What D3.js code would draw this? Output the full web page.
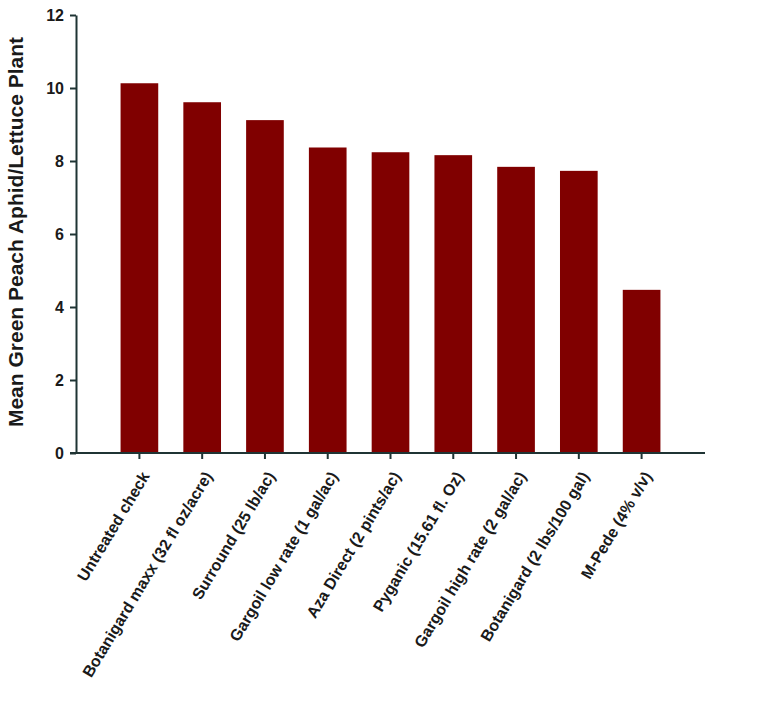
<!DOCTYPE html>
<html>
<head>
<meta charset="utf-8">
<script src="https://cdn.jsdelivr.net/npm/d3@7"></script>
<style>
  body { margin: 0; background: #fff; }
  text { font-family: "Liberation Sans", Arial, sans-serif; font-weight: bold; fill: #1a1a1a; }
</style>
</head>
<body>
<svg width="760" height="708"></svg>
<script>
const treatments = [
  "Untreated check",
  "Botanigard maxx (32 fl oz/acre)",
  "Surround (25 lb/ac)",
  "Gargoil low rate (1 gal/ac)",
  "Aza Direct (2 pints/ac)",
  "Pyganic (15.61 fl. Oz)",
  "Gargoil high rate (2 gal/ac)",
  "Botanigard (2 lbs/100 gal)",
  "M-Pede (4% v/v)"
];
const aphids = [10.13, 9.61, 9.12, 8.37, 8.24, 8.16, 7.84, 7.73, 4.47];
const yTicks = [0, 2, 4, 6, 8, 10, 12];

const svg = d3.select("svg");
const axisColor = "#1f3434";

const margin = { top: 15, left: 76, bottom: 255, right: 55 };
const width = +svg.attr("width");
const height = +svg.attr("height");
const innerWidth = width - margin.left - margin.right;
const innerHeight = height - margin.top - margin.bottom;

const xScale = d3.scaleBand()
  .domain(treatments)
  .range([0, innerWidth])
  .paddingInner(0.4)
  .paddingOuter(0.71);

const yScale = d3.scaleLinear()
  .domain([0, 12])
  .range([innerHeight, 0]);

const g = svg.append("g")
  .attr("transform", `translate(${margin.left},${margin.top})`);

// bars
g.selectAll("rect")
  .data(treatments)
  .enter()
  .append("rect")
  .attr("x", d => xScale(d))
  .attr("y", (d, i) => yScale(aphids[i]))
  .attr("width", xScale.bandwidth())
  .attr("height", (d, i) => innerHeight - yScale(aphids[i]))
  .attr("fill", "#800000");

// y axis
const yAxisG = g.append("g")
  .call(d3.axisLeft(yScale).tickValues(yTicks).tickSize(6).tickPadding(6).tickSizeOuter(0));
yAxisG.select(".domain").attr("stroke", axisColor).attr("stroke-width", 2);
yAxisG.selectAll(".tick line").attr("stroke", axisColor).attr("stroke-width", 2);
yAxisG.selectAll(".tick text")
  .attr("font-size", 16)
  .attr("fill", "#1a1a1a")
  .style("font-weight", "bold");

// x axis
const xAxisG = g.append("g")
  .attr("transform", `translate(0,${innerHeight})`)
  .call(d3.axisBottom(xScale).tickSize(6).tickSizeOuter(0));
xAxisG.select(".domain")
  .attr("d", `M-6,0H${innerWidth}`)
  .attr("stroke", axisColor).attr("stroke-width", 2);
xAxisG.selectAll(".tick line").attr("stroke", axisColor).attr("stroke-width", 2);
xAxisG.selectAll(".tick text")
  .attr("font-size", 16)
  .attr("fill", "#1a1a1a")
  .style("font-weight", "bold")
  .attr("text-anchor", "end")
  .attr("x", 0)
  .attr("y", 0)
  .attr("dy", "0.35em")
  .attr("transform", "translate(6,20) rotate(-59)");

// y axis title
svg.append("text")
  .attr("transform", `translate(23,232) rotate(-90)`)
  .attr("text-anchor", "middle")
  .attr("font-size", 21)
  .text("Mean Green Peach Aphid/Lettuce Plant");
</script>
</body>
</html>
